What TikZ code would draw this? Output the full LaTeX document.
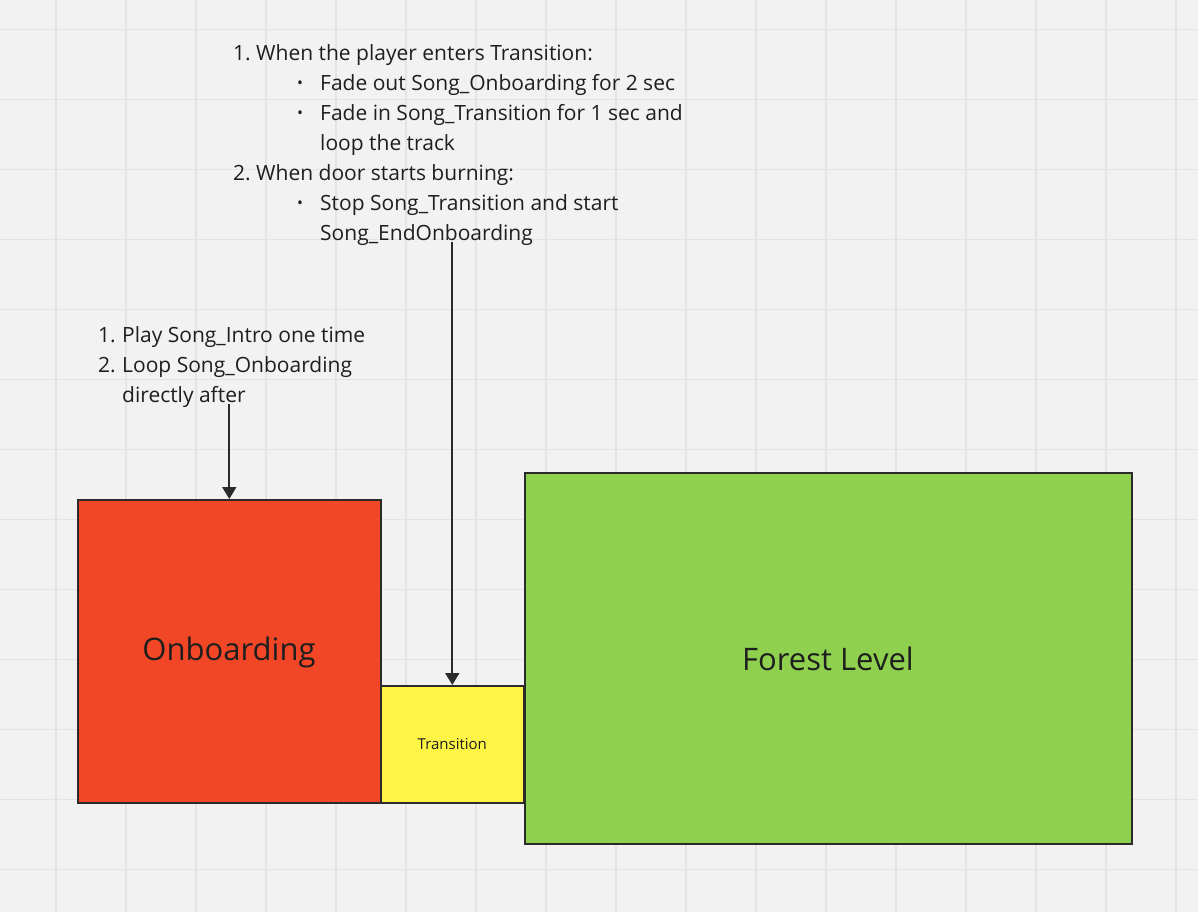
\documentclass[tikz,border=0pt]{standalone}
\usepackage{fontspec}
\setmainfont{Open Sans}
\usetikzlibrary{arrows.meta}
\definecolor{bg}{HTML}{F2F2F2}
\definecolor{gridc}{HTML}{E4E4E4}
\definecolor{redc}{HTML}{F24726}
\definecolor{yelc}{HTML}{FEF445}
\definecolor{grnc}{HTML}{8FD14F}
\definecolor{edgec}{HTML}{2B2B2B}
\definecolor{txtc}{HTML}{1E1E1E}
\tikzset{
  block/.style={draw=edgec, line width=1.6pt, anchor=north west, inner sep=0pt, text=txtc},
  note/.style={anchor=north west, inner sep=0pt, align=left, text=txtc,
    font=\fontsize{21}{30}\selectfont},
  arr/.style={draw=edgec, line width=1.8pt, -{Triangle[length=12pt,width=14pt]}},
}
\newcommand{\bul}{\hspace*{64pt}\makebox[23pt][l]{\raisebox{1.5pt}{\scalebox{0.75}{\textbullet}}}}
\begin{document}
\begin{tikzpicture}[x=1pt,y=-1pt]
\fill[bg] (0,0) rectangle (1198,912);
\useasboundingbox (0,0) rectangle (1198,912);
\foreach \i in {0,...,16} \draw[gridc, line width=1.5pt] (56+70*\i,0) -- (56+70*\i,912);
\foreach \j in {0,...,12} \draw[gridc, line width=1.5pt] (0,29.5+70*\j) -- (1198,29.5+70*\j);

\node[block, fill=redc, minimum width=303pt, minimum height=303pt] (onb) at (77,499) {};
\node[text=txtc, font=\fontsize{31}{36}\selectfont] (onbt) at (229,652) {Onboarding};
\node[block, fill=yelc, minimum width=143pt, minimum height=117pt] (tra) at (380,685) {};
\node[text=txtc, font=\fontsize{15}{18}\selectfont] (trat) at (tra.center) {Transition};
\node[block, fill=grnc, minimum width=607pt, minimum height=371pt] (for) at (524,472) {};
\node[text=txtc, font=\fontsize{31}{36}\selectfont] (fort) at (828,659) {Forest Level};

\node[note] (top) at (233,44) {%
\makebox[23pt][l]{1.}When the player enters Transition:\\
\bul Fade out Song\_Onboarding for 2 sec\\
\bul Fade in Song\_Transition for 1 sec and\\
\hspace*{87pt}loop the track\\
\makebox[23pt][l]{2.}When door starts burning:\\
\bul Stop Song\_Transition and start\\
\hspace*{87pt}Song\_EndOnboarding};

\node[note] (left) at (98,326) {%
\makebox[24pt][l]{1.}Play Song\_Intro one time\\
\makebox[24pt][l]{2.}Loop Song\_Onboarding\\
\hspace*{24pt}directly after};

\draw[arr] ([yshift=3pt]left.south -| onb.north) -- (onb.north);
\draw[arr] ([yshift=3pt]top.south -| tra.north) -- (tra.north);
\end{tikzpicture}
\end{document}
